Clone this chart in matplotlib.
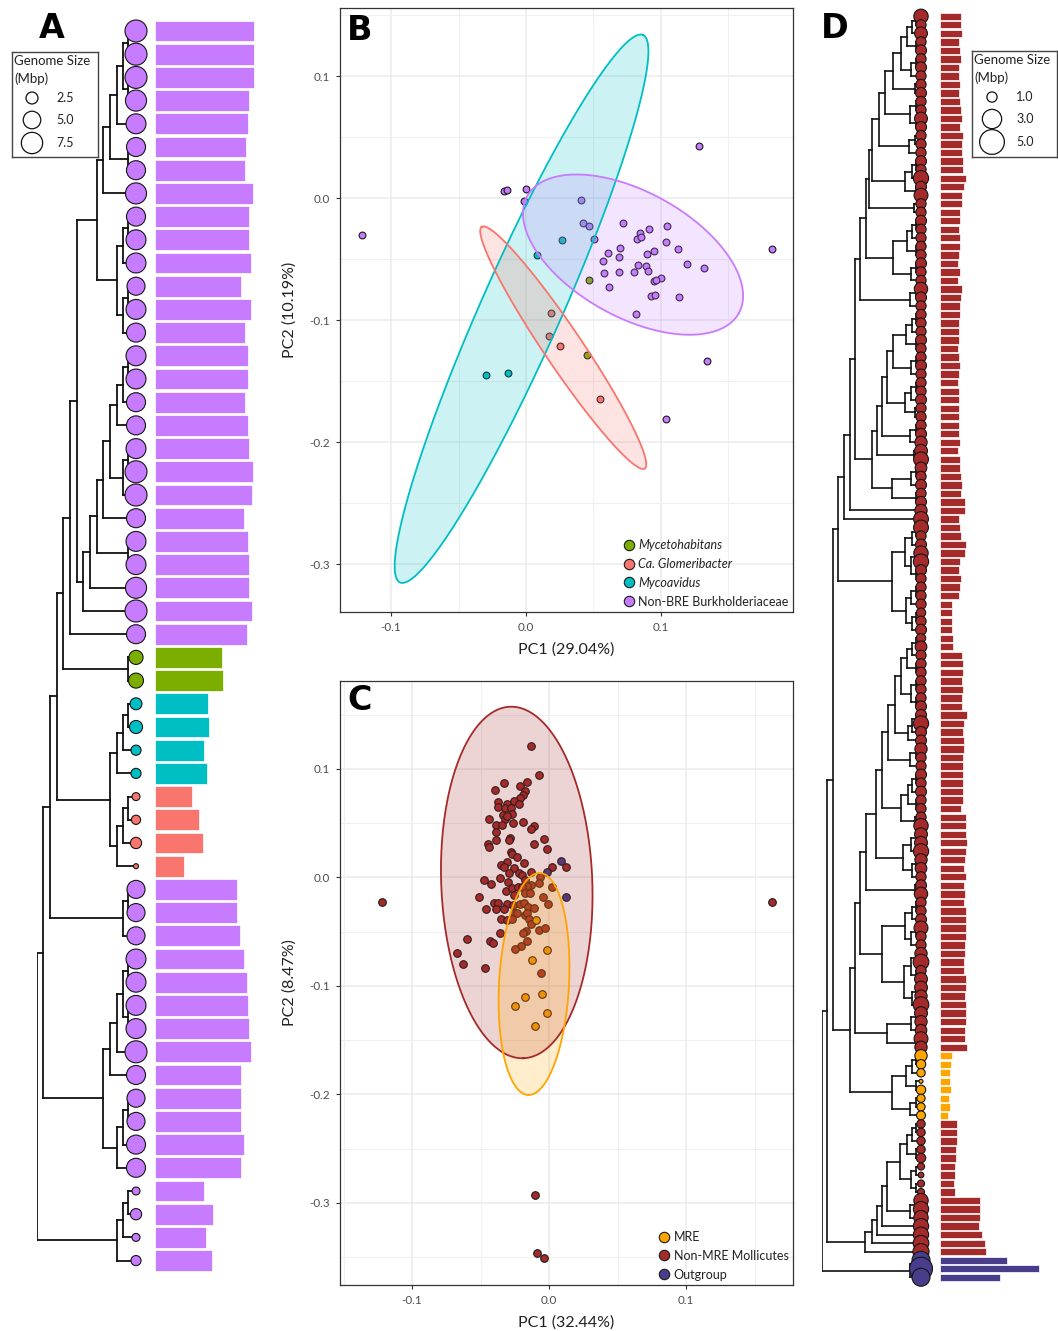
import numpy as np
import matplotlib
matplotlib.use("Agg")
import matplotlib.pyplot as plt
from matplotlib.collections import LineCollection
from matplotlib.lines import Line2D

plt.rcParams['font.family'] = ['Lato', 'DejaVu Sans']

# ---------------- data ----------------
# trees in Newick, "*" = tip (in drawing order), number after ")" = node depth (0 root .. 100 tips)
a_n4 = "(((((*,*)92,(*,*)92)87,*)81,(*,*)92)74,*)67"
a_m3 = "(((*,*)92,*)87,((*,*)92,*)87)81"
a_p8 = "((((((((*,*)92,*)87,*)81,((*,*)92,*)87)74,*)67,(*,*)92)61,*)54,*)46"
a_n8 = f"(((({a_n4},{a_m3})61,{a_p8})40,*)33,(*,*)92)26"
a_q3 = "((((*,*)92,*)87,*)81,(((*,*)92,*)87,*)81)74"
a_s3 = "(((((*,*)92,(*,*)92)87,*)81,*)74,(((*,*)92,*)87,*)81)67"
tree_a = f"(((({a_n8},{a_q3})20,((*,*)92,*)87)13,{a_s3})6,(((*,*)92,*)87,*)81)0"

group_a = ["N"] * 27 + ["M"] * 2 + ["V"] * 4 + ["G"] * 4 + ["N"] * 17
genome_a = [8.0, 8.0, 8.0, 7.3, 6.5, 5.9, 5.9, 7.3, 5.9, 6.5, 6.5, 5.3, 6.5, 5.9,
            6.5, 6.5, 5.9, 5.9, 6.5, 8.0, 8.0, 5.9, 6.5, 6.5, 7.3, 8.0, 5.9,
            3.3, 3.7, 2.5, 2.9, 2.0, 2.0, 1.6, 1.8, 2.3, 1.4,
            5.3, 5.3, 5.3, 6.5, 6.5, 6.5, 6.5, 8.0, 5.9, 5.3, 5.3, 5.9, 5.9,
            1.6, 2.3, 1.6, 2.0]
bar_a = [99, 99, 99, 94, 93, 91, 90, 98, 94, 94, 96, 86, 96, 90,
         93, 93, 90, 93, 94, 98, 97, 89, 93, 94, 94, 97, 92,
         67, 68, 53, 54, 49, 52, 37, 44, 48, 29,
         82, 82, 85, 89, 92, 93, 94, 96, 86, 86, 86, 89, 86,
         49, 58, 51, 57]

d_a1 = "(((*,*)95,*)91,(*,*)95)86"
d_a2 = f"({d_a1},((*,*)95,*)90)80"
d_a3 = f"({d_a2},(*,*)94)72"
d_a4 = f"({d_a3},((*,*)95,(*,*)95)89)64"
d_a5 = f"({d_a4},((*,*)94,*)88)58"
d_a6 = f"({d_a5},(((*,*)95,*)91,(*,*)95)84)51"
d_aa = f"({d_a6},(*,*)93)47"
d_bb = "((((*,*)95,*)91,(*,*)95)86,((*,*)95,*)90)72"
d_top = f"(({d_aa},{d_bb})44,((*,*)95,*)89)38"
d_s2a = "((((*,*)95,*)91,(*,*)95)85,((*,*)95,*)90)72"
d_s2b = f"({d_s2a},(((*,*)95,*)90,(*,*)94)84)66"
d_s2c = f"({d_s2b},((*,*)95,*)89)61"
d_s2d = f"({d_s2c},(*,*)93)56"
d_s2 = f"({d_s2d},(((*,*)95,*)90,(*,*)95)71)50"
d_n893 = "((((*,*)95,*)91,((*,*)95,(*,*)95)90)84,(((*,*)95,*)90,((*,*)95,*)91)85)71"
d_upper = f"(((({d_top},{d_s2})33,*)28,*)22,{d_n893})16"
d_m1 = "(((*,*)95,*)91,(*,*)95)86"
d_m2 = f"({d_m1},((*,*)95,(*,*)95)90)80"
d_m3 = f"({d_m2},(((*,*)95,*)91,*)87)74"
d_m4 = f"({d_m3},((*,*)95,*)89)67"
d_m5 = "((((*,*)95,*)91,(*,*)95)87,(*,*)94)80"
d_m6 = f"({d_m4},{d_m5})61"
d_m8 = f"({d_m6},(((*,*)95,*)90,((*,*)95,*)91)82)55"
d_n866 = f"({d_m8},(*,*)94)44"
d_n882 = "((((*,*)95,*)91,((*,*)95,*)90)84,(((*,*)95,(*,*)95)90,((*,*)95,*)91)83)61"
d_n888 = "(((*,*)95,*)90,(*,*)95)66"
d_mre = "((((*,*)95,*)91,(*,*)95)85,((*,*)95,*)89)71"
d_lower = f"((({d_n866},{d_n882})38,{d_n888})33,{d_mre})28"
d_b1 = "((((*,*)95,*)91,(*,*)95)86,((*,*)95,(*,*)95)90)79"
d_bot = f"((((({d_b1},((*,*)95,*)89)66,*)61,*)56,*)50,*)43"
tree_d = f"((({d_upper},{d_lower})11,{d_bot})5,((*,*)96,*)89)0"

group_d = ["R"] * 122 + ["Y"] * 8 + ["R"] * 16 + ["O"] * 3
genome_d = [1.7, 1.0, 1.4, 1.0, 1.1, 1.0, 1.1, 1.0, 1.0, 1.1, 1.0, 1.0, 1.4, 1.1, 1.0, 1.0,
            1.0, 1.1, 1.0, 1.9, 1.1, 1.6, 1.0, 1.0, 1.1, 1.0, 1.0, 1.0, 1.0, 1.1, 1.0, 1.0,
            1.5, 1.1, 1.0, 1.0, 1.0,
            1.0, 1.1, 1.0, 1.0, 1.1, 1.0, 1.0, 1.0, 1.1, 1.0, 1.0, 1.0, 1.1, 1.3, 1.4, 1.8,
            1.2, 1.0, 1.1, 1.0, 1.1, 1.3, 1.8, 1.8, 1.0, 1.1, 1.7, 1.9, 1.1, 1.0, 1.0, 1.0,
            1.0, 0.9, 1.0, 1.1, 0.9, 1.2, 1.0,
            1.0, 1.0, 1.0, 1.0, 1.0, 1.1, 1.1, 1.9, 1.1, 1.1, 1.3, 1.0, 1.0, 1.1, 1.0, 1.1,
            1.0, 1.0, 1.0, 1.7, 1.4, 1.4, 1.9, 1.3, 1.2, 1.0, 1.1, 1.5, 1.0, 1.0, 1.1, 1.6,
            1.0, 1.0, 1.3, 2.0, 1.0, 1.4,
            1.4, 1.3, 2.0, 1.4, 1.3, 1.2, 1.6, 1.3,
            1.3, 0.9, 0.8, 0.6, 0.9, 0.78, 0.78, 0.85,
            0.8, 0.8, 0.8, 0.8, 0.9, 0.7, 0.63, 0.7, 0.7,
            1.7, 1.9, 1.7, 1.9, 1.9, 2.0, 2.1,
            2.6, 4.3, 2.6]
bar_d = [21, 21, 22, 19, 20, 21, 19, 19, 20, 19, 20, 21, 22, 20, 23, 22, 22, 23, 23, 26,
         24, 22, 22, 20, 20, 19, 20, 20, 19, 18, 20, 18, 22, 21, 20, 20, 19,
         19, 19, 18, 19, 20, 19, 18, 19, 19, 19, 19, 19, 19, 20, 18, 20, 20, 21, 22, 21,
         25, 25, 19, 20, 21, 26, 25, 20, 19, 21, 20, 19,
         12, 12, 12, 12, 13, 13, 22,
         23, 23, 22, 23, 22, 22, 27, 24, 23, 24, 24, 23, 23, 23, 23, 23, 23, 21, 26, 26,
         26, 27, 26, 25, 24, 26, 24, 25, 24, 26, 26, 26, 26, 25, 25, 24, 24, 26,
         26, 25, 26, 26, 26, 25, 25, 27,
         12, 11, 10, 10, 11, 9, 10, 8,
         17, 17, 17, 16, 16, 15, 15, 14, 15,
         40, 40, 40, 39, 42, 45, 46,
         67, 99, 60]

# panel B: PCA of Burkholderiaceae
b_groups = ["Mycetohabitans", "Ca. Glomeribacter", "Mycoavidus", "Non-BRE Burkholderiaceae"]
b_myce_x = [0.0467, 0.0450]
b_myce_y = [-0.0672, -0.1289]
b_glom_x = [0.0183, 0.0168, 0.0252, 0.0548]
b_glom_y = [-0.0945, -0.1129, -0.1213, -0.1642]
b_myco_x = [0.0264, 0.0079, -0.0299, -0.0136]
b_myco_y = [-0.0347, -0.0470, -0.1448, -0.1432]
b_non_x = [-0.1215, 0.1279, 0.1824, 0.1339, 0.1035, -0.0161, -0.0143, -0.0002, -0.0013, 0.0407,
           0.0424, 0.0467, 0.0504, 0.0719, 0.0844, 0.0909, 0.1047, 0.0820, 0.0850, 0.1037,
           0.0696, 0.0605, 0.0896, 0.0950, 0.1124, 0.0573, 0.0689, 0.0832, 0.0889, 0.1193,
           0.1316, 0.0578, 0.0691, 0.0800, 0.0901, 0.0948, 0.1002, 0.0961, 0.0613, 0.0924,
           0.0953, 0.1131, 0.0817]
b_non_y = [-0.0306, 0.0424, -0.0416, -0.1336, -0.1806, 0.0057, 0.0063, 0.0076, -0.0025, -0.0016,
           -0.0207, -0.0230, -0.0336, -0.0207, -0.0289, -0.0254, -0.0227, -0.0339, -0.0322, -0.0363,
           -0.0410, -0.0451, -0.0457, -0.0432, -0.0420, -0.0514, -0.0481, -0.0552, -0.0557, -0.0539,
           -0.0576, -0.0617, -0.0607, -0.0609, -0.0593, -0.0675, -0.0656, -0.0672, -0.0730, -0.0801,
           -0.0795, -0.0806, -0.0948]
# 95% ellipses: centre, semi-axis vector 1, semi-axis vector 2 (PC units)
b_ell_glom = [(0.0276, -0.1225), (-0.0604, 0.0990), (0.0117, 0.0087)]
b_ell_myco = [(-0.0033, -0.0906), (0.0900, 0.2242), (0.0271, -0.0133)]
b_ell_non = [(0.0793, -0.0463), (0.0784, -0.0479), (-0.0224, -0.0449)]

# panel C: PCA of Mollicutes
c_groups = ["MRE", "Non-MRE Mollicutes", "Outgroup"]
c_mre_x = [-0.0097, -0.0012, -0.0122, -0.0175, -0.0049, -0.0250, -0.0012, -0.0104]
c_mre_y = [-0.0394, -0.0671, -0.0763, -0.1099, -0.1076, -0.1187, -0.1246, -0.1371]
c_out_x = [0.0088, 0.0124, -0.0018]
c_out_y = [0.0152, -0.0177, 0.0051]
c_non_x = [-0.0131, -0.0075, -0.0161, -0.0331, -0.0212, -0.0392, -0.0175, -0.0190, -0.0212, -0.0255,
           -0.0372, -0.0304, -0.0217, -0.0374, -0.0321, -0.0275, -0.0334, -0.0268, -0.0440, -0.0323,
           -0.0304, -0.0188, -0.0261, -0.0387, -0.0341, -0.0107, -0.0134, -0.0389, -0.0285, -0.0294,
           -0.0389, -0.0034, -0.0445, -0.0436, -0.0107, -0.0017, -0.0277, -0.0270, -0.0234, -0.0304,
           -0.0185, -0.0350, -0.0328, 0.0024, 0.0124, -0.0255, -0.0290, -0.0219, -0.0131, -0.0199,
           -0.0358, -0.0472, -0.0423, -0.0299, -0.0173, -0.0066, -0.0075, -0.0129, -0.0158, 0.0024,
           -0.0314, -0.0268, -0.0228, -0.0195, -0.0511, -0.0175, -0.0139, -0.0046, -0.0255, -0.0401,
           -0.0370, -0.0309, -0.0460, -0.0387, -0.0328, -0.0263, -0.0214, -0.0180, -0.0151, -0.0109,
           -0.0005, -0.0258, -0.0231, -0.0175, -0.0161, -0.0353, -0.0307, -0.0268, -0.0146, -0.0134,
           -0.0358, -0.0170, -0.0188, -0.0075, -0.0031, -0.0599, -0.0431, -0.0411, -0.0158, -0.0202,
           -0.0250, -0.0669, -0.0628, -0.0465, -0.0058, -0.1219, 0.1628, -0.0102, -0.0088, -0.0036]
c_non_y = [0.1215, 0.0945, 0.0883, 0.0871, 0.0843, 0.0806, 0.0800, 0.0758, 0.0730, 0.0705,
           0.0699, 0.0675, 0.0677, 0.0647, 0.0638, 0.0643, 0.0576, 0.0582, 0.0542, 0.0536,
           0.0567, 0.0512, 0.0500, 0.0481, 0.0481, 0.0472, 0.0444, 0.0422, 0.0367, 0.0346,
           0.0346, 0.0358, 0.0309, 0.0281, 0.0306, 0.0260, 0.0232, 0.0214, 0.0186, 0.0143,
           0.0131, 0.0115, 0.0100, 0.0094, 0.0094, 0.0085, 0.0044, 0.0044, 0.0051, 0.0023,
           -0.0002, -0.0026, -0.0063, -0.0041, -0.0023, 0.0007, -0.0051, -0.0069, -0.0076, -0.0085,
           -0.0124, -0.0094, -0.0090, -0.0085, -0.0177, -0.0140, -0.0140, -0.0177, -0.0164, -0.0232,
           -0.0232, -0.0244, -0.0293, -0.0293, -0.0293, -0.0256, -0.0244, -0.0232, -0.0269, -0.0284,
           -0.0244, -0.0324, -0.0327, -0.0343, -0.0330, -0.0385, -0.0392, -0.0385, -0.0380, -0.0431,
           -0.0509, -0.0490, -0.0509, -0.0484, -0.0468, -0.0570, -0.0585, -0.0606, -0.0582, -0.0631,
           -0.0662, -0.0693, -0.0794, -0.0834, -0.0877, -0.0226, -0.0226, -0.2926, -0.3461, -0.3507]
c_ell_non = [(-0.0236, -0.0046), (0.0049, -0.1620), (0.0551, 0.0027)]
c_ell_mre = [(-0.0110, -0.0982), (-0.0044, -0.1023), (0.0255, -0.0018)]

col_a = {"N": "#C77CFF", "M": "#7CAE00", "V": "#00BFC4", "G": "#F8766D"}
col_d = {"R": "#A52A2A", "Y": "#FFA500", "O": "#483D8B"}

# ---------------- helpers ----------------
W, H = 1058, 1331
fig = plt.figure(figsize=(W / 100, H / 100), dpi=100)


def px_axes(x0, y0, x1, y1):
    return fig.add_axes([x0 / W, 1 - y1 / H, (x1 - x0) / W, (y1 - y0) / H])


def parse_newick(s):
    pos = 0
    count = [0]

    def node():
        nonlocal pos
        if s[pos] == '(':
            pos += 1
            kids = [node()]
            while s[pos] == ',':
                pos += 1
                kids.append(node())
            pos += 1  # ')'
            j = pos
            while pos < len(s) and (s[pos].isdigit() or s[pos] == '.'):
                pos += 1
            return {'depth': float(s[j:pos]), 'kids': kids}
        pos += 1  # '*'
        count[0] += 1
        return {'depth': 100.0, 'kids': [], 'tip': count[0] - 1}

    return node(), count[0]


def draw_tree(ax, newick, lw=1.2):
    root, n = parse_newick(newick)
    segs = []

    def walk(nd):
        if not nd['kids']:
            nd['y'] = nd['tip']
            return nd['y']
        ys = [walk(k) for k in nd['kids']]
        nd['y'] = (ys[0] + ys[-1]) / 2
        segs.append([(nd['depth'], ys[0]), (nd['depth'], ys[-1])])
        for k in nd['kids']:
            segs.append([(nd['depth'], k['y']), (k['depth'], k['y'])])
        return nd['y']

    walk(root)
    ax.add_collection(LineCollection(segs, colors='#111111', linewidths=lw,
                                     capstyle='projecting', joinstyle='miter'))
    return n


def size_pts(v, vmin, vmax, lo, hi):
    v = np.asarray(v, float)
    d = lo + (hi - lo) * np.sqrt(np.clip((v - vmin) / (vmax - vmin), 0, None))
    return (d * 0.72) ** 2


def tree_panel(newick, groups, genome, bars, cols, x_tree, x_bar, y_top, y_bot,
               lo, hi, bar_h, lw):
    n = len(groups)
    ax = px_axes(x_tree[0], y_top, x_tree[1], y_bot)
    n_tips = draw_tree(ax, newick, lw)
    assert n_tips == n == len(genome) == len(bars), (n_tips, n, len(genome), len(bars))
    ax.set_xlim(0, 100)
    ax.set_ylim(n - 0.5, -0.5)
    ax.axis('off')
    idx = np.arange(n)
    c = [cols[g] for g in groups]
    ax.scatter(np.full(n, 100), idx, s=size_pts(genome, min(genome), max(genome), lo, hi),
               c=c, edgecolors='#151515', linewidths=0.8, zorder=3, clip_on=False)
    bx = px_axes(x_bar[0], y_top, x_bar[1], y_bot)
    bx.barh(idx, bars, height=bar_h, color=c, edgecolor='white', linewidth=0.5)
    bx.set_xlim(0, x_bar[1] - x_bar[0])
    bx.set_ylim(n - 0.5, -0.5)
    bx.axis('off')


def size_legend(box, values, genome, lo, hi):
    lx = px_axes(*box)
    w, h = box[2] - box[0], box[3] - box[1]
    lx.set_xlim(0, w)
    lx.set_ylim(h, 0)
    lx.set_xticks([])
    lx.set_yticks([])
    for sp in lx.spines.values():
        sp.set_color('#444444')
        sp.set_linewidth(1.0)
    lx.text(2, 9, "Genome Size", fontsize=9.5, va='center', ha='left', color='#222222')
    lx.text(2, 27, "(Mbp)", fontsize=9.5, va='center', ha='left', color='#222222')
    ys = [46, 68, 91]
    lx.scatter([20] * 3, ys, s=size_pts(values, min(genome), max(genome), lo, hi),
               facecolors='white', edgecolors='#111111', linewidths=0.9, clip_on=False)
    for v, y in zip(values, ys):
        lx.text(44, y, f"{v:.1f}", fontsize=9, va='center', ha='left', color='#222222')


def pca_axes(box, xlim, ylim, xticks, yticks, xlabel, ylabel):
    ax = px_axes(*box)
    ax.set_xticks(xticks)
    ax.set_yticks(yticks)
    ax.set_xticks(list(np.array(xticks) - 0.05) + [xticks[-1] + 0.05], minor=True)
    ax.set_yticks(list(np.array(yticks) - 0.05) + [yticks[-1] + 0.05], minor=True)
    ax.set_xticklabels([f"{t:.1f}" for t in xticks])
    ax.set_yticklabels([f"{t:.1f}" for t in yticks])
    ax.set_xlim(*xlim)
    ax.set_ylim(*ylim)
    ax.grid(which='major', color='#EBEBEB', lw=1.1, zorder=0)
    ax.grid(which='minor', color='#F0F0F0', lw=0.8, zorder=0)
    ax.set_axisbelow(True)
    ax.tick_params(which='major', length=3, color='#333333', labelsize=8.4,
                   labelcolor='#4D4D4D', width=0.8, pad=4)
    ax.tick_params(which='minor', length=0)
    for sp in ax.spines.values():
        sp.set_color('#333333')
        sp.set_linewidth(0.9)
    ax.set_xlabel(xlabel, fontsize=11.5, color='#222222', labelpad=7)
    ax.set_ylabel(ylabel, fontsize=11.5, color='#222222', labelpad=9)
    return ax


def ellipse(ax, e, color):
    t = np.linspace(0, 2 * np.pi, 300)
    (cx, cy), (ax1, ay1), (ax2, ay2) = e
    x = cx + np.cos(t) * ax1 + np.sin(t) * ax2
    y = cy + np.cos(t) * ay1 + np.sin(t) * ay2
    ax.fill(x, y, color=color, alpha=0.2, lw=0, zorder=4)
    ax.plot(x, y, color=color, lw=1.3, zorder=5)


def pca_legend(ax, labels, colors, italic):
    hs = [Line2D([], [], ls='none', marker='o', ms=7.5, mfc=c, mec='#1a1a1a', mew=0.8)
          for c in colors]
    leg = ax.legend(hs, labels, loc='lower right', frameon=False, fontsize=9,
                    handlelength=0.9, handletextpad=0.3, labelspacing=0.55,
                    borderaxespad=0.15, borderpad=0.2)
    for t, it in zip(leg.get_texts(), italic):
        if it:
            t.set_fontstyle('italic')
        t.set_color('#222222')


# ---------------- panel A ----------------
tree_panel(tree_a, group_a, genome_a, bar_a, col_a, (37, 136), (155, 260),
           31 - 11.6, 31 + 23.2 * 53.5, 5, 22, 0.9, 1.3)
size_legend((12, 52, 98, 157), [2.5, 5.0, 7.5], genome_a, 5, 22)

# ---------------- panel D ----------------
tree_panel(tree_d, group_d, genome_d, bar_d, col_d, (822, 921), (940, 1058),
           16.3 - 4.26, 16.3 + 8.52 * 148.5, 4, 23, 0.86, 1.2)
size_legend((972, 51, 1057, 157), [1.0, 3.0, 5.0], genome_d, 4, 23)

# ---------------- panel B ----------------
axb = pca_axes((340, 8, 793, 612), (-0.1378, 0.1978), (-0.339, 0.1557),
               [-0.1, 0.0, 0.1], [-0.3, -0.2, -0.1, 0.0, 0.1],
               "PC1 (29.04%)", "PC2 (10.19%)")
b_cols = [col_a["M"], col_a["G"], col_a["V"], col_a["N"]]
for xs, ys, c in [(b_non_x, b_non_y, b_cols[3]), (b_myce_x, b_myce_y, b_cols[0]),
                  (b_glom_x, b_glom_y, b_cols[1]), (b_myco_x, b_myco_y, b_cols[2])]:
    axb.scatter(xs, ys, s=24, c=c, edgecolors='#1a1a1a', linewidths=0.8, zorder=3)
ellipse(axb, b_ell_myco, b_cols[2])
ellipse(axb, b_ell_glom, b_cols[1])
ellipse(axb, b_ell_non, b_cols[3])
pca_legend(axb, b_groups, b_cols, [True, True, True, False])

# ---------------- panel C ----------------
axc = pca_axes((340, 681, 793, 1285), (-0.1526, 0.178), (-0.3756, 0.1811),
               [-0.1, 0.0, 0.1], [-0.3, -0.2, -0.1, 0.0, 0.1],
               "PC1 (32.44%)", "PC2 (8.47%)")
c_cols = [col_d["Y"], col_d["R"], col_d["O"]]
axc.scatter(c_non_x, c_non_y, s=30, c=c_cols[1], edgecolors='#1a1a1a', linewidths=0.8, zorder=3)
axc.scatter(c_out_x, c_out_y, s=30, c=c_cols[2], edgecolors='#1a1a1a', linewidths=0.8, zorder=3)
axc.scatter(c_mre_x, c_mre_y, s=30, c=c_cols[0], edgecolors='#1a1a1a', linewidths=0.8, zorder=3)
ellipse(axc, c_ell_non, c_cols[1])
ellipse(axc, c_ell_mre, c_cols[0])
pca_legend(axc, c_groups, c_cols, [False, False, False])

# ---------------- panel letters ----------------
for lab, x, y in [("A", 52, 29), ("B", 360, 30), ("C", 360, 700), ("D", 835, 29)]:
    fig.text(x / W, 1 - y / H, lab, fontsize=24, fontweight='bold', ha='center', va='center',
             family=['DejaVu Sans'])

fig.savefig("out.png", dpi=100)
